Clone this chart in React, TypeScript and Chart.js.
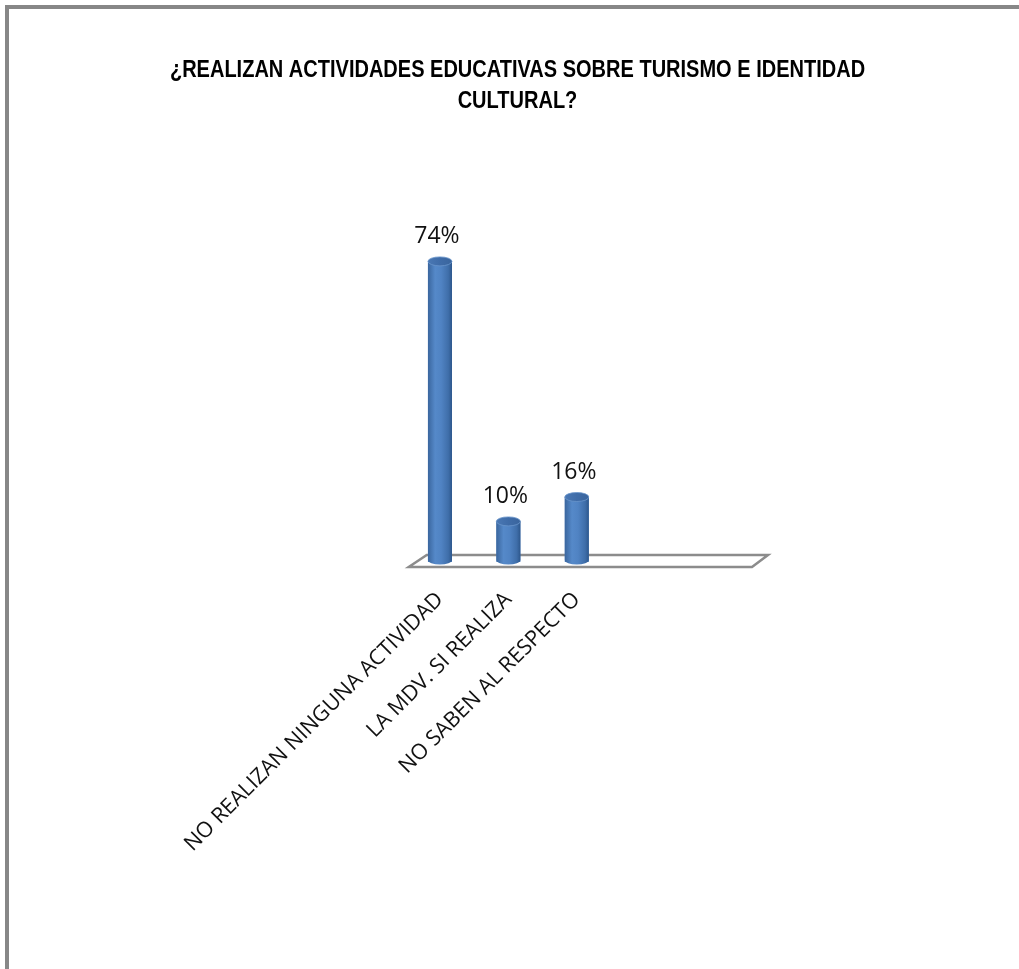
import React, { useEffect, useRef } from 'react';
import { Chart, registerables } from 'chart.js';

Chart.register(...registerables);

const categories = ['NO REALIZAN NINGUNA ACTIVIDAD', 'LA MDV. SI REALIZA', 'NO SABEN AL RESPECTO'];
const percentages = [74, 10, 16];
const titleLines = ['¿REALIZAN ACTIVIDADES EDUCATIVAS SOBRE TURISMO E IDENTIDAD', 'CULTURAL?'];
const yMin = 0;
const yMax = 80;

// Condensed bold title (Arial Narrow look)
const narrowTitlePlugin = {
  id: 'narrowTitle',
  afterDraw(chart: any) {
    const { ctx, width } = chart;
    ctx.save();
    ctx.translate(width / 2, 0);
    ctx.scale(0.87, 1);
    ctx.fillStyle = '#000000';
    ctx.font = 'bold 23px "Liberation Sans", Arial, sans-serif';
    ctx.textAlign = 'center';
    ctx.textBaseline = 'alphabetic';
    titleLines.forEach((line, i) => {
      ctx.fillText(line, 0, 69 + i * 30.5);
    });
    ctx.restore();
  },
};

const floorPlugin = {
  id: 'floor3d',
  beforeDatasetsDraw(chart: any) {
    const { ctx, chartArea } = chart;
    const base = chart.scales.y.getPixelForValue(0);
    const l = chartArea.left;
    const r = chartArea.right;
    ctx.save();
    ctx.beginPath();
    ctx.moveTo(l + 21, base - 7);
    ctx.lineTo(r + 157, base - 7);
    ctx.lineTo(r + 141, base + 5);
    ctx.lineTo(l + 3, base + 5);
    ctx.closePath();
    ctx.fillStyle = '#ffffff';
    ctx.fill();
    ctx.lineWidth = 2.5;
    ctx.strokeStyle = '#8c8c8c';
    ctx.stroke();
    ctx.restore();
  },
};

const cylinderPlugin = {
  id: 'cylinders',
  afterDatasetsDraw(chart: any) {
    const { ctx } = chart;
    const meta = chart.getDatasetMeta(0);
    ctx.save();
    meta.data.forEach((el: any, i: number) => {
      const { x, y, base, width } = el.getProps(['x', 'y', 'base', 'width'], true);
      const rx = width / 2;
      const ry = 4.5;
      const bottom = base - 2;
      const g = ctx.createLinearGradient(x - rx, 0, x + rx, 0);
      g.addColorStop(0, '#3a669e');
      g.addColorStop(0.3, '#5589c9');
      g.addColorStop(0.55, '#5083c3');
      g.addColorStop(0.85, '#3f6ea9');
      g.addColorStop(1, '#2d578c');
      ctx.beginPath();
      ctx.moveTo(x - rx, y);
      ctx.lineTo(x - rx, bottom);
      ctx.ellipse(x, bottom, rx, ry, 0, Math.PI, 0, true);
      ctx.lineTo(x + rx, y);
      ctx.closePath();
      ctx.fillStyle = g;
      ctx.fill();
      const gt = ctx.createLinearGradient(x - rx, 0, x + rx, 0);
      gt.addColorStop(0, '#4a78b4');
      gt.addColorStop(0.5, '#3f6ca8');
      gt.addColorStop(1, '#3a659d');
      ctx.beginPath();
      ctx.ellipse(x, y, rx, ry, 0, 0, Math.PI * 2);
      ctx.fillStyle = gt;
      ctx.fill();
      ctx.lineWidth = 0.8;
      ctx.strokeStyle = '#6a95cc';
      ctx.stroke();
      ctx.fillStyle = '#111111';
      ctx.font = '23px "Open Sans", sans-serif';
      ctx.textAlign = 'center';
      ctx.textBaseline = 'middle';
      ctx.fillText(`${percentages[i]}%`, x - 3, y - 25);
    });
    ctx.restore();
  },
};

export default function App() {
  const ref = useRef<HTMLCanvasElement>(null);

  useEffect(() => {
    if (!ref.current) return;
    const chart = new Chart(ref.current, {
      type: 'bar',
      data: {
        labels: categories,
        datasets: [
          {
            data: percentages,
            backgroundColor: '#4a7dbd',
            borderWidth: 0,
            categoryPercentage: 0.6,
            barPercentage: 0.585,
            yAxisID: 'y',
          },
        ],
      },
      options: {
        responsive: false,
        animation: false,
        layout: { padding: { top: 229, left: 0, right: 0, bottom: 0 } },
        plugins: {
          legend: { display: false },
          tooltip: { enabled: false },
          title: { display: false },
        },
        scales: {
          x: {
            type: 'category',
            offset: true,
            grid: { display: false, drawTicks: false },
            border: { display: false },
            ticks: {
              autoSkip: false,
              maxRotation: 45,
              minRotation: 45,
              padding: 25,
              color: '#111111',
              font: { family: '"Open Sans", sans-serif', size: 21.5 },
            },
            afterFit(s: any) {
              s.height = 399;
              s.paddingLeft = 0;
              s.paddingRight = 0;
            },
          },
          y: {
            position: 'left',
            min: yMin,
            max: yMax,
            grid: { display: false },
            border: { display: false },
            ticks: { display: false },
            afterFit(s: any) {
              s.width = 397.75;
            },
          },
          y2: {
            position: 'right',
            min: yMin,
            max: yMax,
            grid: { display: false },
            border: { display: false },
            ticks: { display: false },
            afterFit(s: any) {
              s.width = 416;
            },
          },
        },
      } as any,
      plugins: [floorPlugin, cylinderPlugin, narrowTitlePlugin],
    });
    return () => chart.destroy();
  }, []);

  return (
    <div style={{ position: 'fixed', inset: 0, overflow: 'hidden', background: '#ffffff' }}>
      <div
        style={{
          position: 'absolute',
          left: 5,
          top: 5,
          width: 2000,
          height: 2000,
          borderLeft: '4px solid #878787',
          borderTop: '4px solid #878787',
        }}
      />
      <canvas
        ref={ref}
        width={1019}
        height={953}
        style={{ position: 'absolute', left: 8, top: 8, width: 1019, height: 953 }}
      />
    </div>
  );
}
